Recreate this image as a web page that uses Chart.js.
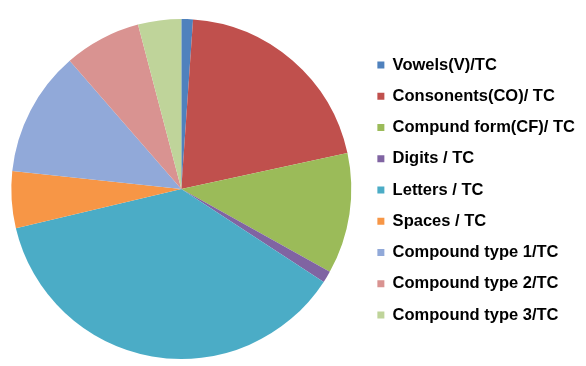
<!DOCTYPE html>
<html>
<head>
<meta charset="utf-8">
<script src="https://cdn.jsdelivr.net/npm/chart.js@4"></script>
<style>
    html, body { margin: 0; padding: 0; background: #fff; }
    #wrap { width: 586px; height: 366px; }
</style>
</head>
<body>
<div id="wrap"><canvas id="tcPieChart" width="586" height="366"></canvas></div>
<script>
// Categories (legend labels)
const categories = [
    'Vowels(V)/TC',
    'Consonents(CO)/ TC',
    'Compund form(CF)/ TC',
    'Digits / TC',
    'Letters / TC',
    'Spaces / TC',
    'Compound type 1/TC',
    'Compound type 2/TC',
    'Compound type 3/TC'
];

// Share of each category (%)
const shares = [1.1, 20.5, 11.5, 1.1, 37.1, 5.4, 11.9, 7.3, 4.1];

// Slice colours (Excel-style palette)
const sliceColors = [
    '#4F81BD', '#C0504D', '#9BBB59', '#8064A2', '#4BACC6',
    '#F79646', '#91A9D9', '#D99391', '#BFD49A'
];

const ctx = document.getElementById('tcPieChart').getContext('2d');
const tcPieChart = new Chart(ctx, {
    type: 'pie',
    data: {
        labels: categories,
        datasets: [{
            data: shares,
            backgroundColor: sliceColors,
            borderWidth: 0,
            radius: 170
        }]
    },
    options: {
        responsive: false,
        animation: false,
        layout: {
            // chart area pushed so the pie centre lands near (180, 190)
            padding: { left: -13, right: 1, top: 12, bottom: -2 }
        },
        plugins: {
            legend: {
                position: 'right',
                align: 'center',
                labels: {
                    boxWidth: 7,
                    boxHeight: 7,
                    padding: 14.75,
                    color: '#000',
                    font: {
                        family: '"Liberation Sans", Arial, sans-serif',
                        size: 16.5,
                        weight: 'bold'
                    }
                }
            },
            tooltip: { enabled: false }
        }
    }
});
</script>
</body>
</html>
